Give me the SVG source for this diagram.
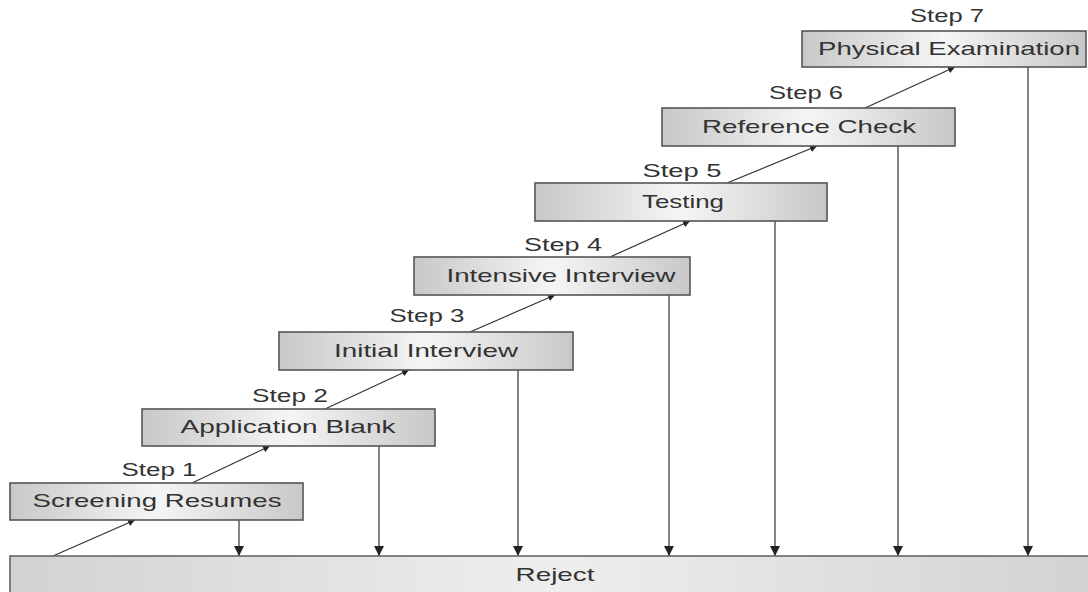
<svg xmlns="http://www.w3.org/2000/svg" width="1088" height="592" viewBox="0 0 1088 592">
<defs>
<linearGradient id="g" x1="0" y1="0" x2="1" y2="0">
<stop offset="0" stop-color="#c8c8c8"/>
<stop offset="0.5" stop-color="#f5f5f5"/>
<stop offset="1" stop-color="#c8c8c8"/>
</linearGradient>
<linearGradient id="gr" x1="0" y1="0" x2="1" y2="0">
<stop offset="0" stop-color="#d2d2d2"/>
<stop offset="0.5" stop-color="#eeeeee"/>
<stop offset="1" stop-color="#d2d2d2"/>
</linearGradient>
<marker id="ah" viewBox="0 0 10 10" refX="10" refY="5" markerWidth="7" markerHeight="7" markerUnits="userSpaceOnUse" orient="auto">
<path d="M0,0 L10,5 L0,10 z" fill="#222"/>
</marker>
<marker id="av" viewBox="0 0 10 10" refX="10" refY="5" markerWidth="10" markerHeight="10" markerUnits="userSpaceOnUse" orient="auto">
<path d="M0,0 L10,5 L0,10 z" fill="#222"/>
</marker>
</defs>
<style>
.box{fill:url(#g);stroke:#555;stroke-width:1.6}
.rej{fill:url(#gr);stroke:#666;stroke-width:1.6}
.t{font-family:"Liberation Sans",Arial,sans-serif;font-size:19px;fill:#333;text-anchor:middle}
.s{font-family:"Liberation Sans",Arial,sans-serif;font-size:19px;fill:#333;text-anchor:middle}
.d{stroke:#333;stroke-width:1.2;fill:none;marker-end:url(#ah)}
.v{stroke:#777;stroke-width:1.8;fill:none;marker-end:url(#av)}
</style>
<rect width="1088" height="592" fill="#fff"/>
<g id="connectors">
<line class="d" x1="53" y1="556" x2="135" y2="520"/>
<line class="d" x1="192" y1="483" x2="270" y2="446"/>
<line class="d" x1="325" y1="409" x2="409" y2="370"/>
<line class="d" x1="470" y1="332" x2="555" y2="295"/>
<line class="d" x1="610" y1="257" x2="690" y2="221"/>
<line class="d" x1="727" y1="183" x2="817" y2="146"/>
<line class="d" x1="865" y1="108" x2="955" y2="67"/>
<line class="v" x1="239" y1="520" x2="239" y2="556"/>
<line class="v" x1="379" y1="446" x2="379" y2="556"/>
<line class="v" x1="518" y1="370" x2="518" y2="556"/>
<line class="v" x1="669" y1="295" x2="669" y2="556"/>
<line class="v" x1="775" y1="221" x2="775" y2="556"/>
<line class="v" x1="898" y1="146" x2="898" y2="556"/>
<line class="v" x1="1028" y1="67" x2="1028" y2="556"/>
</g>
<g id="reject">
<rect class="rej" x="10" y="556" width="1086" height="40"/>
<text class="t" x="555" y="581" textLength="79" lengthAdjust="spacingAndGlyphs">Reject</text>
</g>
<g id="step1">
<text class="s" x="159" y="476" textLength="75" lengthAdjust="spacingAndGlyphs">Step 1</text>
<rect class="box" x="10" y="483" width="293" height="37"/>
<text class="t" x="157" y="507" textLength="249" lengthAdjust="spacingAndGlyphs">Screening Resumes</text>
</g>
<g id="step2">
<text class="s" x="290" y="402" textLength="76" lengthAdjust="spacingAndGlyphs">Step 2</text>
<rect class="box" x="142" y="409" width="293" height="37"/>
<text class="t" x="288" y="433" textLength="215" lengthAdjust="spacingAndGlyphs">Application Blank</text>
</g>
<g id="step3">
<text class="s" x="427" y="322" textLength="75" lengthAdjust="spacingAndGlyphs">Step 3</text>
<rect class="box" x="279" y="332" width="294" height="38"/>
<text class="t" x="426" y="357" textLength="184" lengthAdjust="spacingAndGlyphs">Initial Interview</text>
</g>
<g id="step4">
<text class="s" x="563" y="251" textLength="78" lengthAdjust="spacingAndGlyphs">Step 4</text>
<rect class="box" x="414" y="257" width="276" height="38"/>
<text class="t" x="561" y="282" textLength="229" lengthAdjust="spacingAndGlyphs">Intensive Interview</text>
</g>
<g id="step5">
<text class="s" x="682" y="177" textLength="79" lengthAdjust="spacingAndGlyphs">Step 5</text>
<rect class="box" x="535" y="183" width="292" height="38"/>
<text class="t" x="683" y="208" textLength="82" lengthAdjust="spacingAndGlyphs">Testing</text>
</g>
<g id="step6">
<text class="s" x="806" y="99" textLength="74" lengthAdjust="spacingAndGlyphs">Step 6</text>
<rect class="box" x="662" y="108" width="293" height="38"/>
<text class="t" x="809" y="133" textLength="214" lengthAdjust="spacingAndGlyphs">Reference Check</text>
</g>
<g id="step7">
<text class="s" x="947" y="22" textLength="74" lengthAdjust="spacingAndGlyphs">Step 7</text>
<rect class="box" x="802" y="31" width="284" height="36"/>
<text class="t" x="949" y="55" textLength="262" lengthAdjust="spacingAndGlyphs">Physical Examination</text>
</g>
</svg>
